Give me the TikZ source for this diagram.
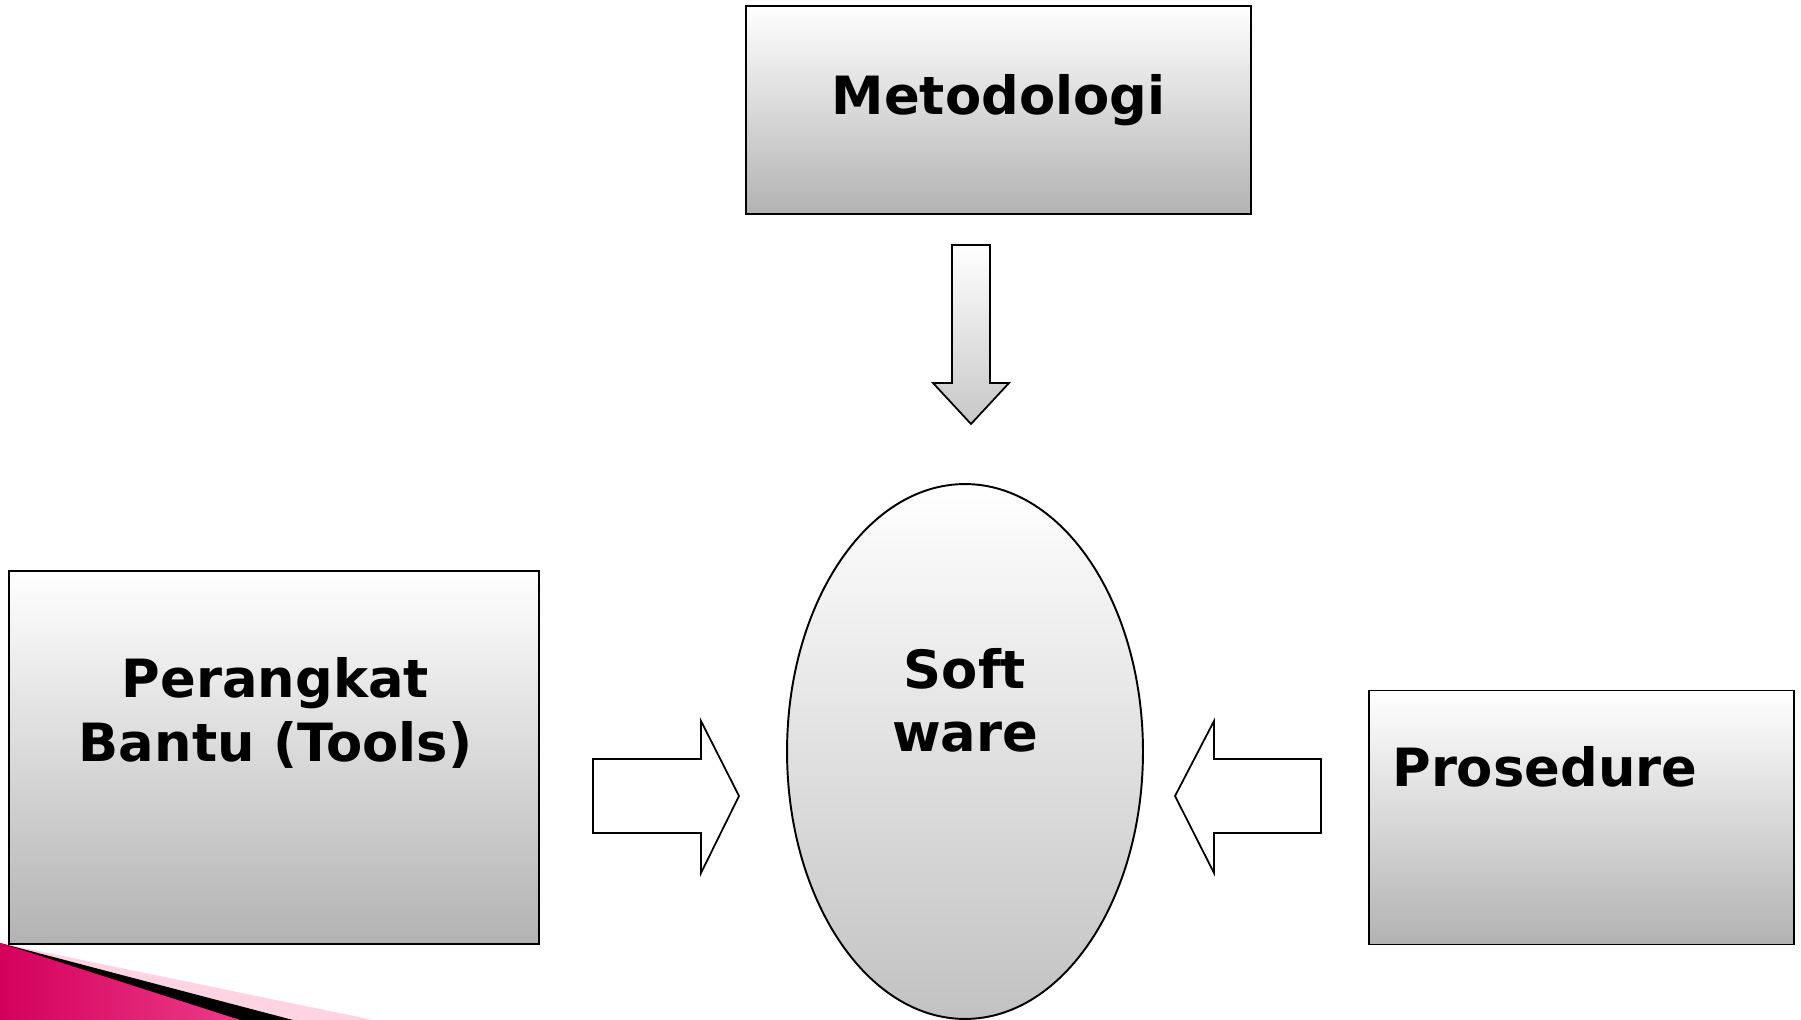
\documentclass[tikz,border=0pt]{standalone}
\usepackage{fontspec}
\setmainfont{DejaVu Sans}
\usetikzlibrary{positioning,calc,shapes.geometric}
\definecolor{cornerpink}{RGB}{255,212,226}
\definecolor{cornerdark}{RGB}{212,0,92}
\definecolor{cornerlight}{RGB}{236,60,136}
\tikzset{
  boxshade/.style={draw, line width=1.1pt, top color=white, bottom color=black!30, inner sep=0pt},
  blockarrow/.style={draw, line width=1pt, line join=miter},
  lbl/.style={font=\bfseries\fontsize{30}{36}\selectfont, inner sep=0pt, align=center},
}

\begin{document}
\begin{tikzpicture}[x=0.02cm, y=-0.02cm]
\useasboundingbox (0,0) rectangle (1801,1020);
% corner decoration
\fill[cornerpink] (0,943) -- (373,1020) -- (0,1020) -- cycle;
\fill[black] (0,943) -- (293,1020) -- (0,1020) -- cycle;
\shade[left color=cornerdark, right color=cornerlight] (0,943) -- (240,1020) -- (0,1020) -- cycle;
% boxes
\node[boxshade, minimum width=10.1cm, minimum height=4.16cm] (meto) at (998.5,110) {};
\node[boxshade, minimum width=10.6cm, minimum height=7.46cm] (tools) at (274,757.5) {};
\node[boxshade, minimum width=8.5cm, minimum height=5.08cm] (prose) at (1581.5,817.5) {};
\node[boxshade, ellipse, bottom color=black!24, minimum width=7.12cm, minimum height=10.7cm] (soft) at (965,751.5) {};
% labels
\node[lbl, anchor=base] (metoLbl) at (998.5,115) {Metodologi};
\node[lbl] (toolsLbl) at (275.5,713) {Perangkat\\Bantu (Tools)};
\node[lbl, anchor=base west] (proseLbl) at (1392,786) {Prosedure};
\node[lbl] (softLbl) at (965,700.5) {Soft\\ware};
% block arrows
\draw[blockarrow, top color=white, bottom color=black!22]
  (952,245) -- (990,245) -- (990,383) -- (1009,383) -- (971,424)
  -- (933,383) -- (952,383) -- cycle;
\draw[blockarrow, fill=white]
  (593,759) -- (701,759) -- (701,721) -- (739,796) -- (701,873)
  -- (701,833) -- (593,833) -- cycle;
\draw[blockarrow, fill=white]
  (1321,759) -- (1214,759) -- (1214,721) -- (1175,796) -- (1214,873)
  -- (1214,833) -- (1321,833) -- cycle;
\end{tikzpicture}
\end{document}
